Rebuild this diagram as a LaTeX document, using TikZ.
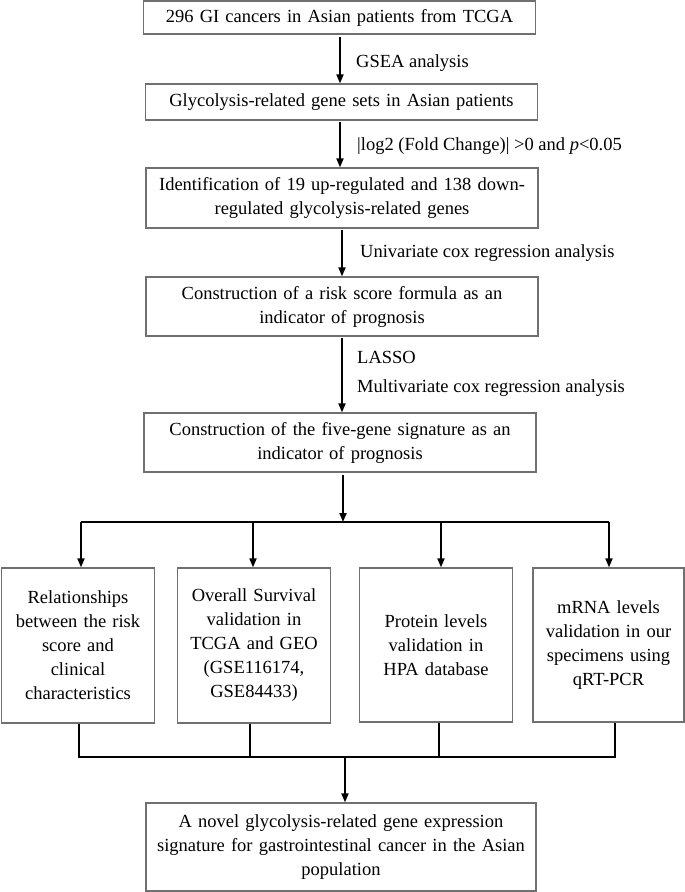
\documentclass[tikz,border=0pt]{standalone}
\usepackage{fontspec}
\setmainfont{Liberation Serif}
\usetikzlibrary{arrows.meta}
\definecolor{boxgray}{HTML}{707070}
\begin{document}
\begin{tikzpicture}[x=1pt,y=-1pt,
  box/.style={draw=boxgray,line width=1.2pt,rectangle,inner sep=0pt,align=center,
    font=\fontsize{18.5}{24}\selectfont},
  wide/.style={box,minimum width=392pt,text width=385pt},
  narrow/.style={box,minimum width=153pt,text width=150pt,minimum height=155pt},
  arr/.style={line width=1.8pt,-{Triangle[length=9pt,width=7pt]}},
  ln/.style={line width=1.8pt},
  lab/.style={anchor=west,inner sep=0pt,font=\fontsize{18.5}{24}\selectfont}]
\useasboundingbox (0,0) rectangle (685,892);
\node[wide,minimum height=33pt] (b1) at (339.5,17.5) {296 GI cancers in Asian patients from TCGA};
\node[wide,minimum height=36pt] (b2) at (341.5,102) {Glycolysis-related gene sets in Asian patients};
\node[wide,minimum height=60pt] (b3) at (342,198) {Identification of 19 up-regulated and 138 down-\\regulated glycolysis-related genes};
\node[wide,minimum height=59pt] (b4) at (342,306.5) {Construction of a risk score formula as an\\indicator of prognosis};
\node[wide,minimum height=59pt] (b5) at (340,442.5) {Construction of the five-gene signature as an\\indicator of prognosis};
\node[narrow] (b6) at (78,645.5) {Relationships\\between the risk\\score and\\clinical\\characteristics};
\node[narrow] (b7) at (254,645.5) {Overall Survival\\validation in\\TCGA and GEO\\(GSE116174,\\GSE84433)};
\node[narrow,minimum height=154pt] (b8) at (436,645) {Protein levels\\validation in\\HPA database};
\node[narrow,minimum height=154pt,minimum width=151pt] (b9) at (608.5,645) {mRNA levels\\validation in our\\specimens using\\qRT-PCR};
\node[wide,minimum width=390pt,minimum height=88pt] (b10) at (341,847) {A novel glycolysis-related gene expression\\signature for gastrointestinal cancer in the Asian\\population};

\draw[arr] (340,37) -- (340,0 |- b2.north);
\draw[arr] (340,122) -- (340,0 |- b3.north);
\draw[arr] (342,230) -- (342,0 |- b4.north);
\draw[arr] (342,338) -- (342,0 |- b5.north);

\node[lab] (l1) at (356,63) {GSEA analysis};
\node[lab] (l2) at (357,146) {|log2 (Fold Change)| >0 and \textit{p}<0.05};
\node[lab] (l3) at (360,253) {Univariate cox regression analysis};
\node[lab] (l4) at (357,357) {LASSO};
\node[lab] (l5) at (357,388) {Multivariate cox regression analysis};

\coordinate (s) at (343,475);
\coordinate (h) at (343,522);
\coordinate (hl) at (81,522);
\coordinate (hr) at (609,522);
\draw[arr] (s) -- (h);
\draw[ln] (hl) -- (hr);
\draw[arr] (hl) -- (81,0 |- b6.north);
\draw[arr] (253,522) -- (253,0 |- b7.north);
\draw[arr] (441,522) -- (441,0 |- b8.north);
\draw[arr] (hr) -- (609,0 |- b9.north);

\coordinate (j) at (345,757);
\draw[ln,line width=1.5pt] (79,0 |- b6.south) -- (79,757) -- (615,757) -- (615,0 |- b9.south);
\draw[ln,line width=1.5pt] (250,0 |- b7.south) -- (250,757);
\draw[ln,line width=1.5pt] (439,0 |- b8.south) -- (439,757);
\draw[arr] (j) -- (b10.north -| j);
\end{tikzpicture}
\end{document}
